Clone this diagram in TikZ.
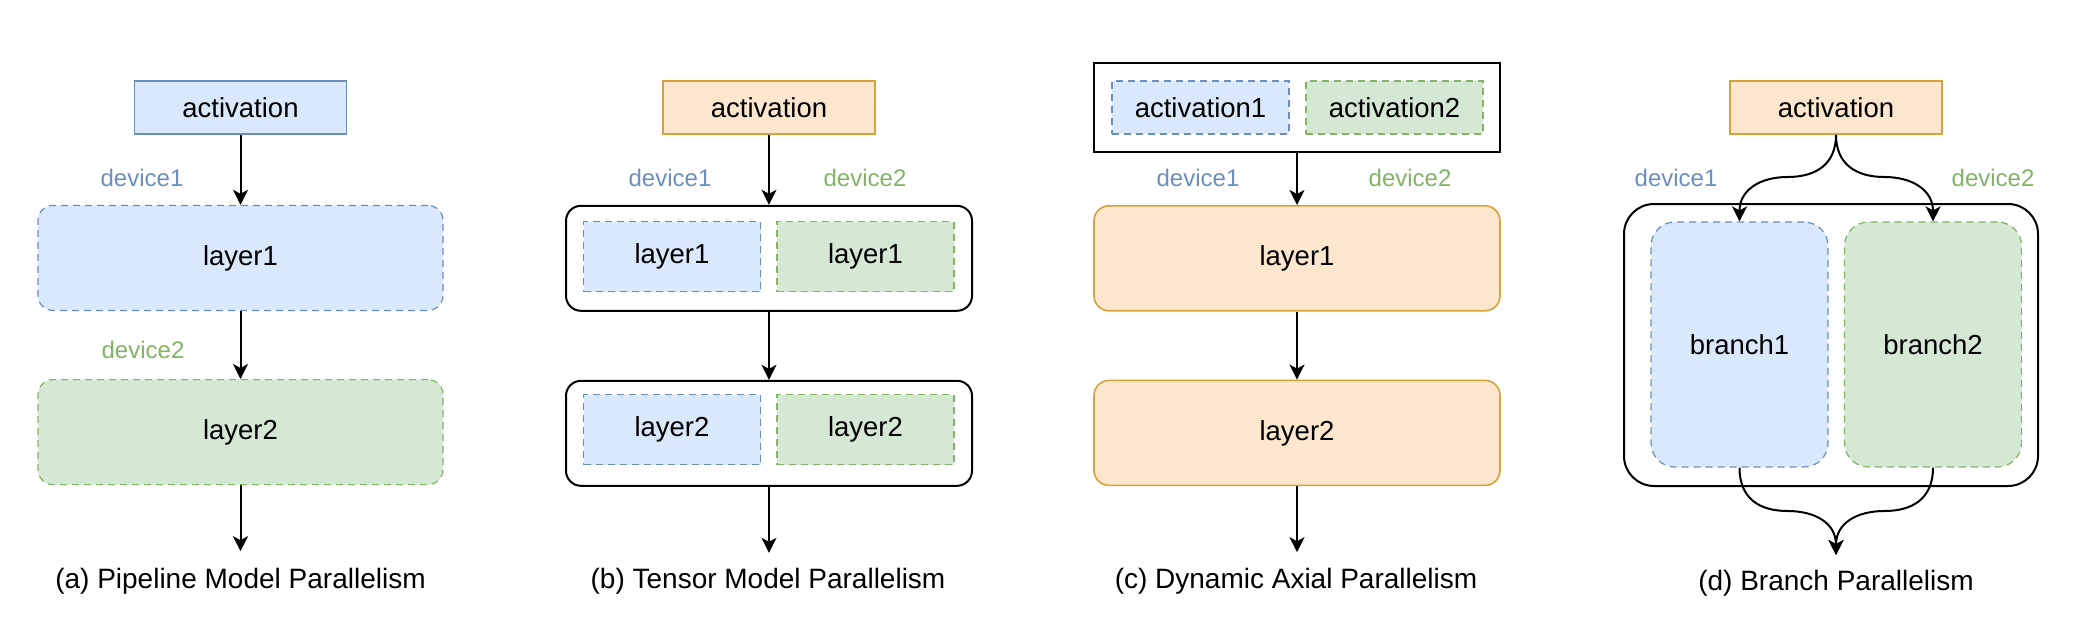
\documentclass[tikz,border=0pt]{standalone}
\usepackage{fontspec}
\setmainfont{Liberation Sans}
\usetikzlibrary{arrows.meta,positioning}
\definecolor{bluefill}{HTML}{DAE8FC}
\definecolor{bluedraw}{HTML}{6C8EBF}
\definecolor{greenfill}{HTML}{D5E8D4}
\definecolor{greendraw}{HTML}{82B366}
\definecolor{orangefill}{HTML}{FCE6CD}
\definecolor{orangedraw}{HTML}{D6A33A}
\tikzset{
  %Define standard arrow tip
  >={Stealth[length=7.5pt,width=7.5pt,inset=2pt]},
  %Define style for boxes
  base/.style={
    rectangle,
    inner sep=0pt,
    text centered,
    font=\fontsize{13.75}{16}\selectfont},
  actbox/.style={base, minimum width=106pt, minimum height=26.5pt, line width=0.8pt},
  layerbox/.style={base, rounded corners=7.5pt, minimum width=202.5pt, minimum height=52.5pt},
  halfbox/.style={base, minimum width=88.5pt, minimum height=35pt},
  branchbox/.style={base, rounded corners=12pt, minimum width=88.5pt, minimum height=122.5pt},
  outerbox/.style={rectangle, draw=black, line width=1pt, rounded corners=7.5pt,
    minimum width=203pt, minimum height=52.5pt},
  % Define device styles
  devone/.style={draw=bluedraw, fill=bluefill, line width=0.6pt, dash pattern=on 3.5pt off 2.5pt},
  devtwo/.style={draw=greendraw, fill=greenfill, line width=0.6pt, dash pattern=on 3.5pt off 2.5pt},
  orangebox/.style={draw=orangedraw, fill=orangefill, line width=0.8pt},
  labone/.style={text=bluedraw, font=\fontsize{12}{14}\selectfont},
  labtwo/.style={text=greendraw, font=\fontsize{12}{14}\selectfont},
  caption/.style={font=\fontsize{14}{16}\selectfont},
  % Define arrow style
  pil/.style={->, line width=1pt}
}

\begin{document}
\begin{tikzpicture}[x=0.5pt,y=-0.5pt]
  \path[use as bounding box, fill=white] (0,0) rectangle (2076,626);

  % (a) pipeline
  \node[actbox, draw=bluedraw, fill=bluefill] (actA) at (240.5,107.5) {activation};
  \node[layerbox, devone, below=35pt of actA] (layA1) {layer1};
  \node[layerbox, devtwo, below=34pt of layA1] (layA2) {layer2};
  \coordinate[below=33pt of layA2] (outA);
  \node[labone] (devA1) at (142,178) {device1};
  \node[labtwo] (devA2) at (143,350) {device2};
  \node[caption] (capA) at (240.5,581) {(a) Pipeline Model Parallelism};
  \draw[pil] (actA) -- (layA1);
  \draw[pil] (layA1) -- (layA2);
  \draw[pil] (layA2) -- (outA);

  % (b) tensor
  \node[actbox, orangebox] (actB) at (769,107.5) {activation};
  \node[outerbox, below=35pt of actB] (boxB1) {};
  \node[outerbox, below=34pt of boxB1] (boxB2) {};
  \node[halfbox, devone] (layB11) at (672,256.5) {layer1};
  \node[halfbox, devtwo] (layB12) at (865.5,256.5) {layer1};
  \node[halfbox, devone] (layB21) at (672,429.5) {layer2};
  \node[halfbox, devtwo] (layB22) at (865.5,429.5) {layer2};
  \coordinate[below=33pt of boxB2] (outB);
  \node[labone] (devB1) at (670,178) {device1};
  \node[labtwo] (devB2) at (865,178) {device2};
  \node[caption] (capB) at (768,581) {(b) Tensor Model Parallelism};
  \draw[pil] (actB) -- (boxB1);
  \draw[pil] (boxB1) -- (boxB2);
  \draw[pil] (boxB2) -- (outB);

  % (c) dynamic axial
  \node[outerbox, rounded corners=0pt, minimum height=44.5pt] (topC) at (1297,107.5) {};
  \node[halfbox, devone, minimum height=26.5pt] (actC1) at (1200.5,107.5) {activation1};
  \node[halfbox, devtwo, minimum height=26.5pt] (actC2) at (1394.5,107.5) {activation2};
  \node[layerbox, orangebox, minimum width=203pt, below=26pt of topC] (layC1) {layer1};
  \node[layerbox, orangebox, minimum width=203pt, below=34pt of layC1] (layC2) {layer2};
  \coordinate[below=33pt of layC2] (outC);
  \node[labone] (devC1) at (1198,178) {device1};
  \node[labtwo] (devC2) at (1410,178) {device2};
  \node[caption] (capC) at (1296,581) {(c) Dynamic Axial Parallelism};
  \draw[pil] (topC) -- (layC1);
  \draw[pil] (layC1) -- (layC2);
  \draw[pil] (layC2) -- (outC);

  % (d) branch
  \node[actbox, orangebox] (actD) at (1836,107.5) {activation};
  \node[outerbox, rounded corners=15pt, minimum width=207pt, minimum height=141pt] (boxD) at (1831,345) {};
  \node[branchbox, devone] (brD1) at (1739.5,344.5) {branch1};
  \node[branchbox, devtwo] (brD2) at (1933,344.5) {branch2};
  \coordinate (joinD) at (1836,555);
  \node[labone] (devD1) at (1676,178) {device1};
  \node[labtwo] (devD2) at (1993,178) {device2};
  \node[caption] (capD) at (1836,583) {(d) Branch Parallelism};
  \draw[pil] (actD.south) .. controls (1836,165) and (1815,177) .. (1787.5,177)
    .. controls (1760,177) and (1739.5,190) .. (brD1.north);
  \draw[pil] (actD.south) .. controls (1836,165) and (1857,177) .. (1884.5,177)
    .. controls (1912,177) and (1933,190) .. (brD2.north);
  \draw[pil] (brD1.south) .. controls (1739.5,499) and (1760,511) .. (1787.5,511)
    .. controls (1815,511) and (1836,523) .. (joinD);
  \draw[pil] (brD2.south) .. controls (1933,499) and (1912,511) .. (1884.5,511)
    .. controls (1857,511) and (1836,523) .. (joinD);
\end{tikzpicture}
\end{document}
